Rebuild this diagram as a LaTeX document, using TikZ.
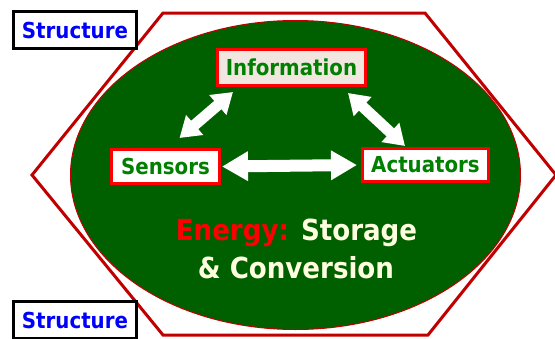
\documentclass[tikz,border=0pt]{standalone}
\usepackage{fontspec}
\setmainfont{DejaVu Sans Condensed}
\usetikzlibrary{arrows.meta,shapes.geometric}
\definecolor{hexred}{RGB}{192,0,0}
\definecolor{boxred}{RGB}{255,0,0}
\definecolor{ellgreen}{RGB}{0,96,0}
\definecolor{txtgreen}{RGB}{0,128,0}
\definecolor{infofill}{RGB}{242,230,224}
\definecolor{cream}{RGB}{255,255,224}
\definecolor{sblue}{RGB}{0,0,255}
\tikzset{
  structbox/.style={draw=black, line width=3pt, fill=white, text=sblue, font=\fontsize{22}{26}\selectfont\bfseries, minimum width=123pt, minimum height=37pt, inner sep=0pt},
  compbox/.style={draw=boxred, line width=3pt, fill=white, text=txtgreen, font=\fontsize{22}{26}\selectfont\bfseries, inner sep=0pt},
  fatarrow/.style={draw=white, line width=12pt, {Triangle[length=26pt,width=28pt]}-{Triangle[length=26pt,width=28pt]}},
  thinarrow/.style={draw=white, line width=11pt, {Triangle[length=20pt,width=25pt]}-{Triangle[length=20pt,width=25pt]}},
  bigtext/.style={font=\fontsize{29}{36}\selectfont\bfseries, inner sep=0pt, anchor=base}
}
\begin{document}
\begin{tikzpicture}[x=1pt,y=-1pt]
\useasboundingbox (0,0) rectangle (555,338);
% ellipse
\node[ellipse, draw=hexred, line width=1pt, fill=ellgreen, minimum width=450pt, minimum height=309pt, inner sep=0pt] (ell) at (295.5,175) {};
% hexagon
\draw[hexred, line width=3pt, line join=miter] (163,13) -- (425,13) -- (556,175) -- (428,335) -- (163,335) -- (32,175) -- cycle;
% structure boxes
\node[structbox] (s1) at (75,30) {Structure};
\node[structbox] (s2) at (75,320) {Structure};
% component boxes
\node[compbox, fill=infofill, minimum width=148pt, minimum height=36pt] (info) at (291.5,67.5) {Information};
\node[compbox, minimum width=108pt, minimum height=34pt] (sens) at (165.5,166.5) {Sensors};
\node[compbox, minimum width=126pt, minimum height=33pt] (act) at (425.5,165) {Actuators};
% arrows
\draw[fatarrow] ([xshift=1pt]sens.east) -- ([xshift=-4pt]act.west);
\draw[thinarrow] ([shift={(14,-10)}]sens.north) -- ([shift={(17,5)}]info.south west);
\draw[thinarrow] ([shift={(-19,6)}]info.south east) -- ([shift={(44,-1)}]act.north west);
% energy text
\node[bigtext] (e1) at (296.5,240) {\textcolor{boxred}{Energy:} \textcolor{cream}{Storage}};
\node[bigtext, text=cream] (e2) at (296,278) {\& Conversion};
\end{tikzpicture}
\end{document}
